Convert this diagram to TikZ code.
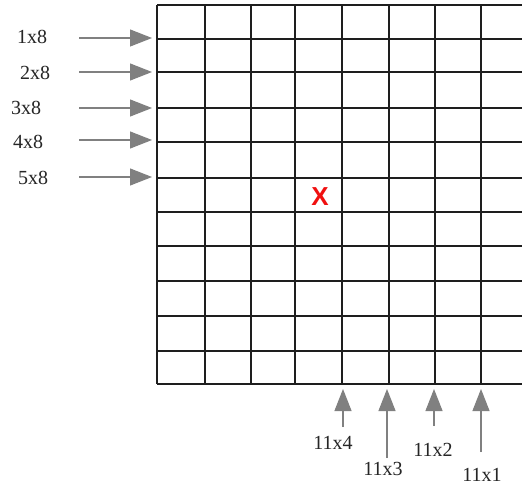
\documentclass[tikz,border=0pt]{standalone}
\usepackage{fontspec}
\setmainfont{Liberation Serif}
\newfontfamily\xsans{Liberation Sans}
\usetikzlibrary{arrows.meta}
\definecolor{gridc}{HTML}{1E1E1E}
\definecolor{arrc}{HTML}{808080}
\definecolor{txtc}{HTML}{262626}
\definecolor{xred}{HTML}{F01010}
\tikzset{
  gridline/.style={draw=gridc, line width=1.6pt},
  ptr/.style={draw=arrc, line width=1.1pt, -{Triangle[length=22pt,width=17pt]}, fill=arrc},
  lbl/.style={text=txtc, font=\fontsize{20}{22}\selectfont, inner sep=0pt},
}
\begin{document}
\begin{tikzpicture}[x=1pt,y=-1pt]
\useasboundingbox (0,0) rectangle (522,486);
\fill[white] (0,0) rectangle (522,486);
\begin{scope}
\clip (0,0) rectangle (522,486);
\foreach \yy in {5,39,72,108,142,178,212,246,281,316,351,384}
  \draw[gridline] (157,\yy) -- (530,\yy);
\foreach \xx in {157,205,251,295,342,389,435,481}
  \draw[gridline] (\xx,5) -- (\xx,384);
\end{scope}
\node[text=xred, font=\xsans\bfseries\fontsize{26}{28}\selectfont, inner sep=0pt] (x) at (320,197) {X};
% left labels
\node[lbl] (l1) at (32,37) {1x8};
\node[lbl] (l2) at (35,73) {2x8};
\node[lbl] (l3) at (26,108) {3x8};
\node[lbl] (l4) at (28,142) {4x8};
\node[lbl] (l5) at (33,178) {5x8};
\foreach \n/\yy in {1/38,2/72,3/108,4/140,5/177}{
  \coordinate (ls\n) at (79,\yy);
  \coordinate (lt\n) at (152,\yy);
  \draw[ptr] (ls\n) -- (lt\n);
}
% bottom labels
\node[lbl] (b4) at (333,443) {11x4};
\node[lbl] (b3) at (383,469) {11x3};
\node[lbl] (b2) at (433,450) {11x2};
\node[lbl] (b1) at (482,475) {11x1};
\foreach \n/\xx/\yy in {4/343/427,3/387/458,2/434/426,1/481/452}{
  \coordinate (bs\n) at (\xx,\yy);
  \coordinate (bt\n) at (\xx,389);
  \draw[ptr] (bs\n) -- (bt\n);
}
\end{tikzpicture}
\end{document}
